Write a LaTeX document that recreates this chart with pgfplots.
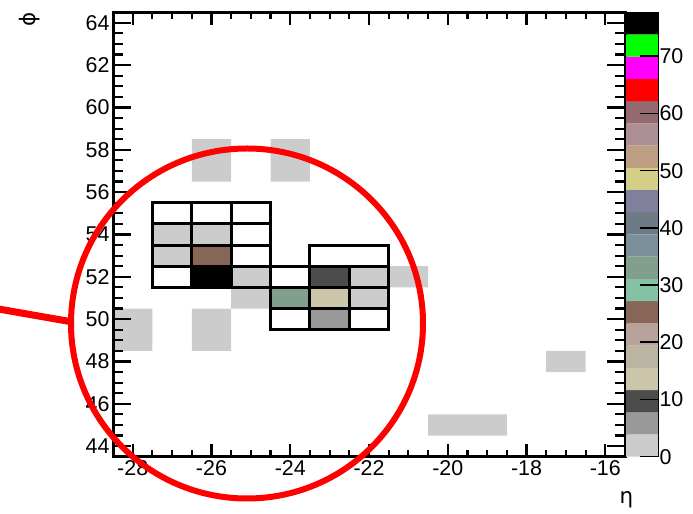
\documentclass[border=0pt]{standalone}
\usepackage{pgfplots}
\pgfplotsset{compat=1.18}
\usepackage{fontspec}
\setmainfont{Liberation Sans}
\newfontfamily\dejavu{DejaVu Sans}

% ROOT default palette, 20 contour levels
\definecolor{c0}{rgb}{0.80,0.80,0.80}
\definecolor{c1}{rgb}{0.60,0.60,0.60}
\definecolor{c2}{rgb}{0.30,0.30,0.30}
\definecolor{c3}{rgb}{0.80,0.78,0.67}
\definecolor{c4}{rgb}{0.73,0.71,0.64}
\definecolor{c5}{rgb}{0.72,0.64,0.61}
\definecolor{c6}{rgb}{0.53,0.40,0.34}
\definecolor{c7}{rgb}{0.52,0.76,0.64}
\definecolor{c8}{rgb}{0.51,0.62,0.55}
\definecolor{c9}{rgb}{0.48,0.56,0.60}
\definecolor{c10}{rgb}{0.43,0.48,0.52}
\definecolor{c11}{rgb}{0.50,0.50,0.61}
\definecolor{c12}{rgb}{0.83,0.81,0.53}
\definecolor{c13}{rgb}{0.74,0.62,0.51}
\definecolor{c14}{rgb}{0.67,0.56,0.58}
\definecolor{c15}{rgb}{0.58,0.41,0.44}
\definecolor{c16}{rgb}{1,0,0}
\definecolor{c17}{rgb}{1,0,1}
\definecolor{c18}{rgb}{0,1,0}
\definecolor{c19}{rgb}{0,0,0}

\newcommand{\cell}[5]{\addplot[draw=none, fill=#5, forget plot] coordinates {(#1,#3) (#2,#3) (#2,#4) (#1,#4) (#1,#3)};}
\newcommand{\seg}[1]{\addplot[black, line width=3bp, line cap=rect, line join=miter, forget plot] coordinates {#1};}
\newcommand{\band}[3]{\addplot[draw=none, fill=#3, forget plot] coordinates {(0,#1) (1,#1) (1,#2) (0,#2) (0,#1)};}

\pgfplotsset{
  rootaxis/.style={
    at={(113bp,57.3bp)}, anchor=south west,
    scale only axis, width=512bp, height=444.5bp,
    xmin=-28.5, xmax=-15.5, ymin=43.5, ymax=64.5,
    axis line style={line width=3bp},
    every tick/.append style={line width=2.2bp, black},
    major tick style={line width=2.2bp, black},
    minor tick style={line width=2.2bp, black},
    tick align=inside, tick pos=both, ticklabel pos=left,
    /pgf/number format/assume math mode=true,
    tick label style={font=\fontsize{21.5}{25}\selectfont},
  }
}

\begin{document}
\begin{tikzpicture}[x=1bp,y=1bp]
\useasboundingbox (0,0) rectangle (693,514);

% main histogram axis (x ticks)
\begin{axis}[rootaxis,
  axis on top,
  xtick={-28,-26,-24,-22,-20,-18,-16},
  xticklabels={-28,-26,-24,-22,-20,-18,-16},
  minor x tick num=3,
  ytick=\empty,
  major tick length=13bp, minor tick length=7bp,
  xlabel={\dejavu η},
  xlabel style={at={(axis description cs:1.0029,-0.1064)}, anchor=base,
    font=\fontsize{21.5}{25}\selectfont},
]
% cells without outline
\cell{-26.5}{-25.5}{56.5}{58.5}{c0}
\cell{-24.5}{-23.5}{56.5}{58.5}{c0}
\cell{-25.5}{-24.5}{50.5}{51.5}{c0}
\cell{-21.5}{-20.5}{51.5}{52.5}{c0}
\cell{-28.5}{-27.5}{48.5}{50.5}{c0}
\cell{-26.5}{-25.5}{48.5}{50.5}{c0}
\cell{-17.5}{-16.5}{47.5}{48.5}{c0}
\cell{-20.5}{-18.5}{44.5}{45.5}{c0}
% cells inside outlined groups
\cell{-27.5}{-26.5}{53.5}{54.5}{c0}
\cell{-26.5}{-25.5}{53.5}{54.5}{c0}
\cell{-27.5}{-26.5}{52.5}{53.5}{c0}
\cell{-26.5}{-25.5}{52.5}{53.5}{c6}
\cell{-26.5}{-25.5}{51.5}{52.5}{c19}
\cell{-25.5}{-24.5}{51.5}{52.5}{c0}
\cell{-23.5}{-22.5}{51.5}{52.5}{c2}
\cell{-22.5}{-21.5}{51.5}{52.5}{c0}
\cell{-24.5}{-23.5}{50.5}{51.5}{c8}
\cell{-23.5}{-22.5}{50.5}{51.5}{c3}
\cell{-22.5}{-21.5}{50.5}{51.5}{c0}
\cell{-23.5}{-22.5}{49.5}{50.5}{c1}
% outlines
\seg{(-27.5,51.5) (-24.5,51.5) (-24.5,55.5) (-27.5,55.5) (-27.5,51.5)}
\seg{(-27.5,52.5) (-24.5,52.5)}
\seg{(-27.5,53.5) (-24.5,53.5)}
\seg{(-27.5,54.5) (-24.5,54.5)}
\seg{(-26.5,51.5) (-26.5,55.5)}
\seg{(-25.5,51.5) (-25.5,55.5)}
\seg{(-24.5,49.5) (-21.5,49.5) (-21.5,52.5) (-24.5,52.5) (-24.5,49.5)}
\seg{(-24.5,50.5) (-21.5,50.5)}
\seg{(-24.5,51.5) (-21.5,51.5)}
\seg{(-23.5,49.5) (-23.5,52.5)}
\seg{(-22.5,49.5) (-22.5,52.5)}
\seg{(-23.5,52.5) (-23.5,53.5) (-21.5,53.5) (-21.5,52.5)}
\end{axis}

% overlay axis (y ticks)
\begin{axis}[rootaxis,
  xtick=\empty,
  ytick={44,46,...,64},
  minor y tick num=3,
  major tick length=18bp, minor tick length=10bp,
  ylabel={\dejavu ϕ},
  every axis y label/.style={at={(axis description cs:-0.1621,0.9847)}, anchor=center, rotate=90,
    font=\fontsize{21.5}{25}\selectfont},
]
\end{axis}

% palette
\begin{axis}[
  at={(626bp,57.3bp)}, anchor=south west,
  scale only axis, width=32bp, height=444.5bp,
  xmin=0, xmax=1, ymin=0, ymax=77.7,
  axis on top,
  axis x line=none, axis y line*=right,
  y axis line style={line width=1bp},
  ytick={0,10,...,70},
  tick align=inside, major tick length=18bp,
  every tick/.append style={line width=1.6bp, black},
  major tick style={line width=1.6bp, black},
  yticklabel pos=right,
  yticklabel style={font=\fontsize{21.5}{25}\selectfont, xshift=-2bp},
  /pgf/number format/assume math mode=true,
]
\band{0}{3.885}{c0}
\band{3.885}{7.77}{c1}
\band{7.77}{11.655}{c2}
\band{11.655}{15.54}{c3}
\band{15.54}{19.425}{c4}
\band{19.425}{23.31}{c5}
\band{23.31}{27.195}{c6}
\band{27.195}{31.08}{c7}
\band{31.08}{34.965}{c8}
\band{34.965}{38.85}{c9}
\band{38.85}{42.735}{c10}
\band{42.735}{46.62}{c11}
\band{46.62}{50.505}{c12}
\band{50.505}{54.39}{c13}
\band{54.39}{58.275}{c14}
\band{58.275}{62.16}{c15}
\band{62.16}{66.045}{c16}
\band{66.045}{69.93}{c17}
\band{69.93}{73.815}{c18}
\band{73.815}{77.7}{c19}
\end{axis}

% annotation
\draw[red, line width=6bp] (247,190.5) ellipse [x radius=176, y radius=175];
\draw[red, line width=7bp] (-5,205.6) -- (71,192.3);
\end{tikzpicture}
\end{document}
